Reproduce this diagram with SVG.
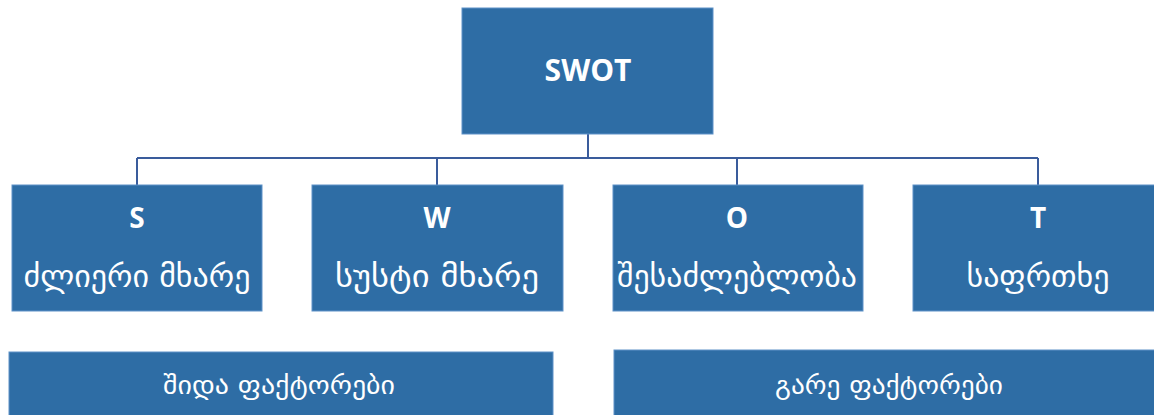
<svg xmlns="http://www.w3.org/2000/svg" width="1154" height="415" viewBox="0 0 1154 415">
<style>
.box{fill:#2E6DA5;stroke:#5E92C8;stroke-width:1}
.lat{font-family:"Open Sans","Liberation Sans",sans-serif;font-weight:bold;fill:#fff;text-anchor:middle}
.geo{font-family:"DejaVu Sans","Noto Sans",sans-serif;fill:#fff;text-anchor:middle}
.con{fill:none;stroke:#3A5C9C;stroke-width:2}
</style>
<rect width="1154" height="415" fill="#fff"/>
<g id="connectors">
<path class="con" d="M588 134V158M137 158H1038M137 158V185M437 158V185M737 158V185M1038 158V185"/>
</g>
<g id="swot">
<rect class="box" x="462" y="8" width="251" height="126"/>
<text class="lat" x="588" y="81" font-size="30">SWOT</text>
</g>
<g id="s">
<rect class="box" x="12" y="185" width="250" height="126"/>
<text class="lat" x="137" y="228" font-size="28">S</text>
<text class="geo" x="137" y="287" font-size="30" textLength="227" lengthAdjust="spacingAndGlyphs">ძლიერი მხარე</text>
</g>
<g id="w">
<rect class="box" x="312" y="185" width="251" height="126"/>
<text class="lat" x="437" y="228" font-size="28">W</text>
<text class="geo" x="437" y="287" font-size="30" textLength="204" lengthAdjust="spacingAndGlyphs">სუსტი მხარე</text>
</g>
<g id="o">
<rect class="box" x="613" y="185" width="250" height="126"/>
<text class="lat" x="737" y="228" font-size="28">O</text>
<text class="geo" x="737" y="287" font-size="30" textLength="240" lengthAdjust="spacingAndGlyphs">შესაძლებლობა</text>
</g>
<g id="t">
<rect class="box" x="913" y="185" width="250" height="126"/>
<text class="lat" x="1038" y="228" font-size="28">T</text>
<text class="geo" x="1038" y="287" font-size="30" textLength="143" lengthAdjust="spacingAndGlyphs">საფრთხე</text>
</g>
<g id="internal">
<rect class="box" x="9" y="352" width="544" height="70"/>
<text class="geo" x="279" y="394" font-size="25" textLength="232" lengthAdjust="spacingAndGlyphs">შიდა ფაქტორები</text>
</g>
<g id="external">
<rect class="box" x="614" y="350" width="550" height="72"/>
<text class="geo" x="889" y="394" font-size="25" textLength="228" lengthAdjust="spacingAndGlyphs">გარე ფაქტორები</text>
</g>
</svg>
